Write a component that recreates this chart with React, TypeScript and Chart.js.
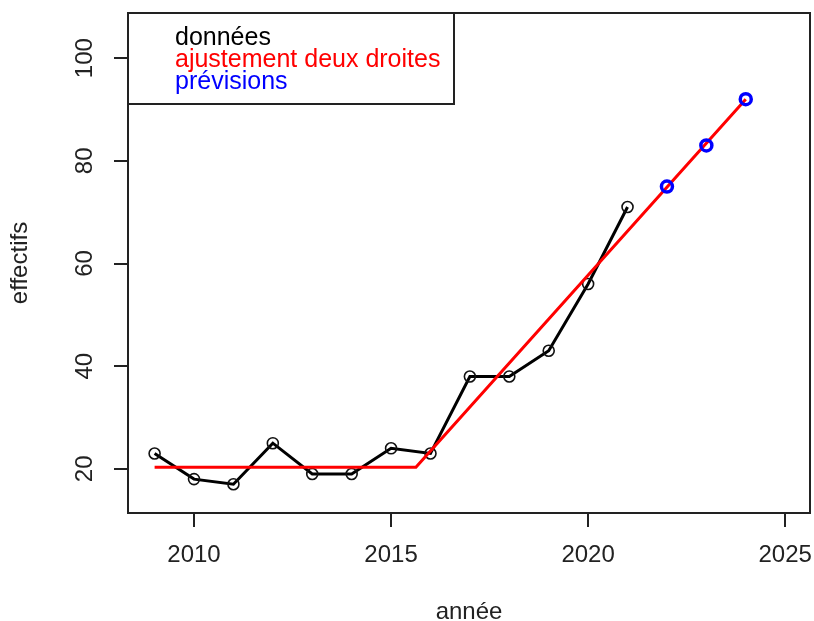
import { useEffect, useRef } from "react";
import { Chart, registerables } from "chart.js";

Chart.register(...registerables);

// ---- data ----
const dataYears = [2009, 2010, 2011, 2012, 2013, 2014, 2015, 2016, 2017, 2018, 2019, 2020, 2021];
const dataValues = [23, 18, 17, 25, 19, 19, 24, 23, 38, 38, 43, 56, 71];
const fitYears = [2009, 2015.63, 2024];
const fitValues = [20.33, 20.33, 92];
const predYears = [2022, 2023, 2024];
const predValues = [75, 83, 92];
const xTicks = [2010, 2015, 2020, 2025];
const yTicks = [20, 40, 60, 80, 100];
const seriesLabels = ["données", "ajustement deux droites", "prévisions"];
const seriesColors = ["#000000", "#ff0000", "#0000ff"];
const xTitle = "année";
const yTitle = "effectifs";

const FONT = '"Liberation Sans", Arial, Helvetica, sans-serif';
const INK = "#222222";

const zeroPad = (s: any) => {
  s.paddingLeft = 0;
  s.paddingRight = 0;
  s.paddingTop = 0;
  s.paddingBottom = 0;
};

const overlayPlugin = {
  id: "rOverlay",
  afterDraw(chart: any) {
    const { ctx, chartArea, scales } = chart;
    ctx.save();
    // plot box
    ctx.strokeStyle = INK;
    ctx.lineWidth = 2;
    ctx.strokeRect(chartArea.left, chartArea.top, chartArea.right - chartArea.left, chartArea.bottom - chartArea.top);
    // y tick labels rotated (R style)
    ctx.fillStyle = INK;
    ctx.font = `24px ${FONT}`;
    ctx.textAlign = "center";
    ctx.textBaseline = "middle";
    const ys = scales.y;
    yTicks.forEach((v) => {
      const py = ys.getPixelForValue(v);
      ctx.save();
      ctx.translate(chartArea.left - 43, py);
      ctx.rotate(-Math.PI / 2);
      ctx.fillText(String(v), 0, 0);
      ctx.restore();
    });
    // legend box
    const lx = chartArea.left;
    const ly = chartArea.top;
    ctx.strokeStyle = INK;
    ctx.lineWidth = 2;
    ctx.strokeRect(lx, ly, 326, 91);
    ctx.font = `25px ${FONT}`;
    ctx.textAlign = "left";
    ctx.textBaseline = "alphabetic";
    chart.data.datasets.forEach((ds: any, i: number) => {
      ctx.fillStyle = seriesColors[i];
      ctx.fillText(ds.label, lx + 47, ly + 32 + i * 22);
    });
    ctx.restore();
  },
};

export default function App() {
  const ref = useRef<HTMLCanvasElement | null>(null);
  useEffect(() => {
    if (!ref.current) return;
    const chart = new Chart(ref.current, {
      type: "scatter",
      data: {
        datasets: [
          {
            label: seriesLabels[0],
            data: dataYears.map((x, i) => ({ x, y: dataValues[i] })),
            showLine: true,
            borderColor: seriesColors[0],
            borderWidth: 3,
            pointRadius: 5.5,
            pointBorderWidth: 1.6,
            pointBorderColor: "#111",
            pointBackgroundColor: "rgba(0,0,0,0)",
            order: 3,
          },
          {
            label: seriesLabels[1],
            data: fitYears.map((x, i) => ({ x, y: fitValues[i] })),
            showLine: true,
            borderColor: seriesColors[1],
            borderWidth: 3,
            pointRadius: 0,
            order: 2,
          },
          {
            label: seriesLabels[2],
            data: predYears.map((x, i) => ({ x, y: predValues[i] })),
            showLine: false,
            pointRadius: 5.5,
            pointBorderWidth: 3.5,
            pointBorderColor: seriesColors[2],
            pointBackgroundColor: "rgba(0,0,0,0)",
            order: 1,
          },
        ],
      },
      options: {
        animation: false,
        responsive: false,
        devicePixelRatio: 1,
        layout: { autoPadding: false, padding: { top: 13, right: 4, left: 0, bottom: 0 } },
        plugins: { legend: { display: false }, tooltip: { enabled: false } },
        scales: {
          x: {
            type: "linear",
            min: 2008.325,
            max: 2025.63,
            afterBuildTicks: (s: any) => {
              s.ticks = xTicks.map((v) => ({ value: v }));
            },
            afterFit: (s: any) => {
              s.height = 108;
              zeroPad(s);
            },
            border: { display: false },
            grid: { drawOnChartArea: false, drawTicks: true, tickLength: 14, tickColor: INK, lineWidth: 2 },
            ticks: {
              color: INK,
              font: { family: FONT, size: 24 },
              padding: 14,
              maxRotation: 0,
              autoSkip: false,
              callback: (v: any) => String(v),
            },
            title: {
              display: true,
              text: xTitle,
              color: INK,
              font: { family: FONT, size: 24, lineHeight: 0.75 },
              padding: { top: 0, bottom: 0 },
            },
          },
          y: {
            type: "linear",
            min: 11.4,
            max: 108.8,
            afterBuildTicks: (s: any) => {
              s.ticks = yTicks.map((v) => ({ value: v }));
            },
            afterFit: (s: any) => {
              s.width = 128;
              zeroPad(s);
            },
            border: { display: false },
            grid: { drawOnChartArea: false, drawTicks: true, tickLength: 14, tickColor: INK, lineWidth: 2 },
            ticks: { display: false },
            title: {
              display: true,
              text: yTitle,
              color: INK,
              font: { family: FONT, size: 24, lineHeight: 1.2 },
              padding: { top: 6, bottom: 0 },
            },
          },
        },
      },
      plugins: [overlayPlugin],
    });
    return () => chart.destroy();
  }, []);
  return (
    <div style={{ position: "absolute", left: 0, top: 0, width: 814, height: 621, background: "#fff" }}>
      <canvas ref={ref} width={814} height={621} style={{ display: "block" }} />
    </div>
  );
}
